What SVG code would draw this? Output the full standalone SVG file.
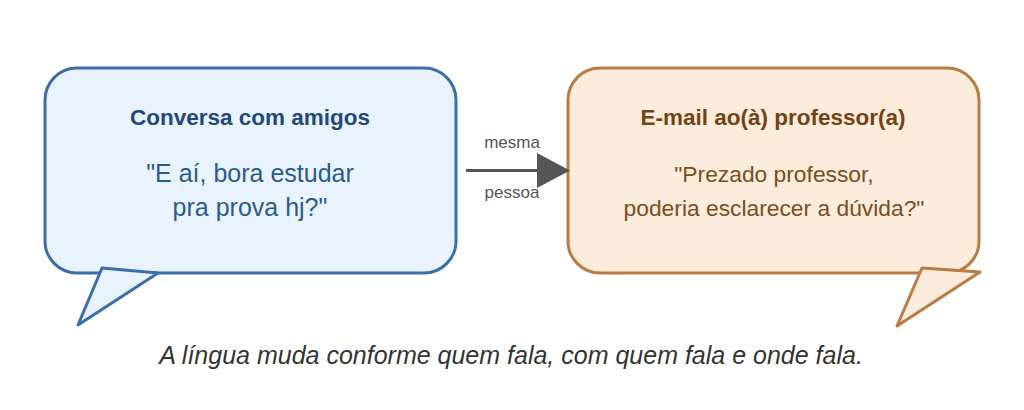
<svg xmlns="http://www.w3.org/2000/svg" width="1024" height="410" viewBox="0 0 1024 410">
<style>
text{font-family:"Liberation Sans",Arial,sans-serif;text-anchor:middle}
.blue{fill:#e9f3fe;stroke:#3c6eae;stroke-width:3;stroke-linejoin:round}
.tan{fill:#fbecdc;stroke:#b87c44;stroke-width:3;stroke-linejoin:round}
.bt{fill:#23497a;font-weight:bold;font-size:22.5px}
.bq{fill:#2c5a8e;font-size:25px}
.tt{fill:#734315;font-weight:bold;font-size:22.5px}
.tq{fill:#7a4e22;font-size:22.8px}
.lbl{fill:#555;font-size:17px}
</style>
<rect width="1024" height="410" fill="#fff"/>
<g id="conversa">
<rect class="blue" x="45" y="68" width="411" height="205" rx="32"/>
<polygon class="blue" points="102,268 158,273 78,325"/>
<text class="bt" x="250" y="125">Conversa com amigos</text>
<text class="bq" x="250" y="182">"E aí, bora estudar</text>
<text class="bq" x="250" y="216">pra prova hj?"</text>
</g>
<g id="email">
<rect class="tan" x="568" y="68" width="411" height="205" rx="32"/>
<polygon class="tan" points="922,268 980,272 897,326"/>
<text class="tt" x="773" y="125">E-mail ao(à) professor(a)</text>
<text class="tq" x="774" y="182">"Prezado professor,</text>
<text class="tq" x="774" y="216">poderia esclarecer a dúvida?"</text>
</g>
<g id="connectors">
<line x1="466" y1="170.5" x2="540" y2="170.5" stroke="#555" stroke-width="3"/>
<polygon points="537,153 570,170.5 537,188" fill="#555"/>
<text class="lbl" x="512" y="148">mesma</text>
<text class="lbl" x="512" y="198">pessoa</text>
</g>
<text x="511" y="364" font-size="25" font-style="italic" fill="#333">A língua muda conforme quem fala, com quem fala e onde fala.</text>
</svg>
